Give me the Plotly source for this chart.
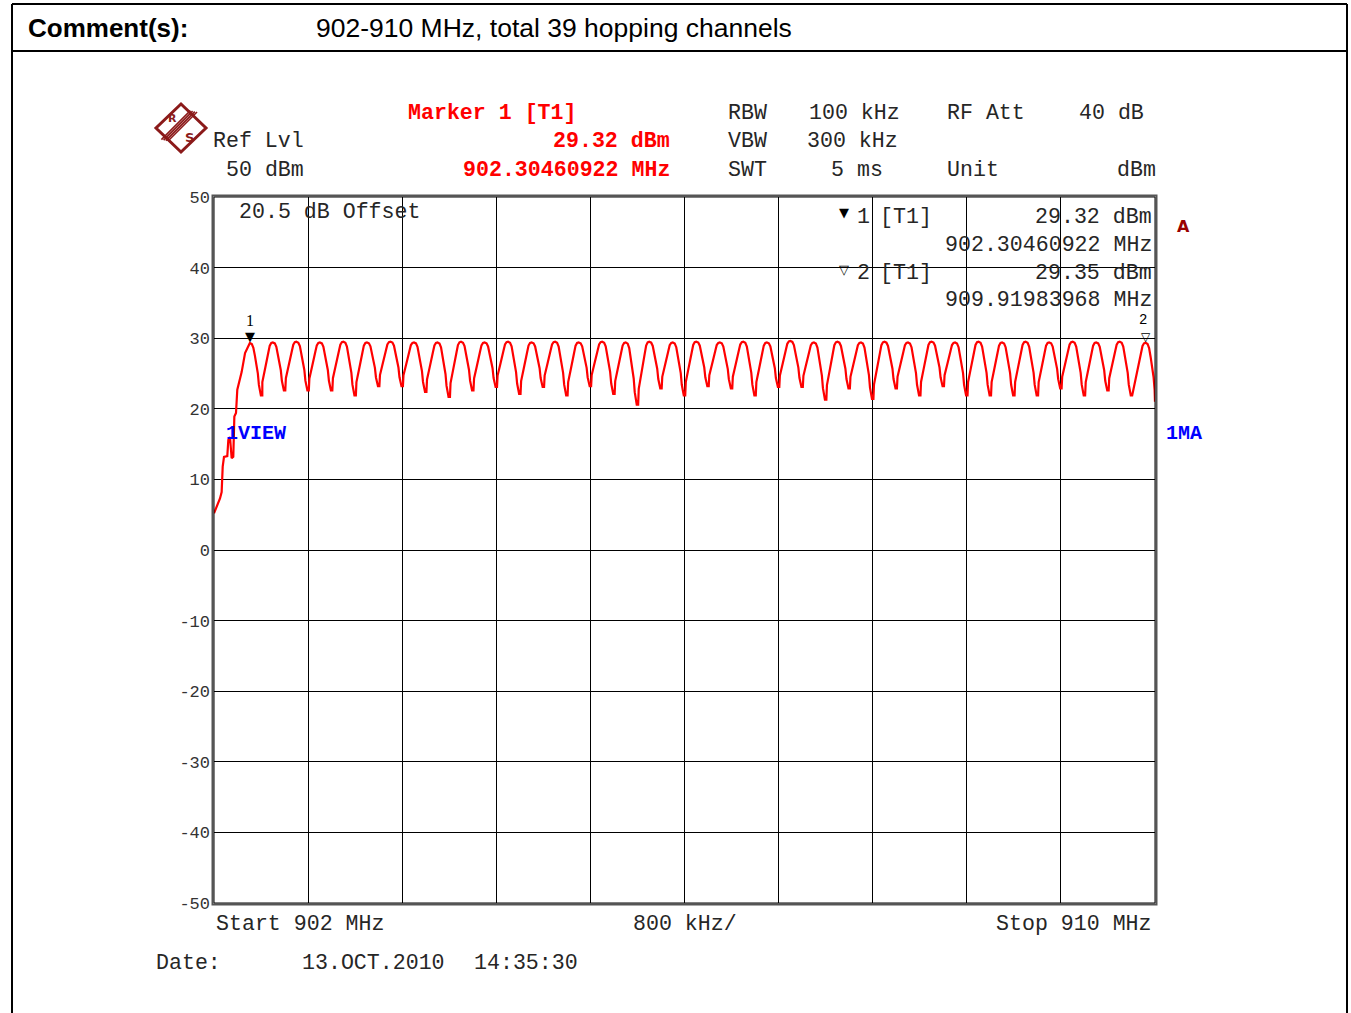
import plotly.graph_objects as go

# ---------------- data ----------------
channel_mhz = [902.3046, 902.5, 902.7, 902.9, 903.1, 903.3, 903.5, 903.7, 903.9, 904.1,
               904.3, 904.5, 904.7, 904.9, 905.1, 905.3, 905.5, 905.7, 905.9, 906.1,
               906.3, 906.5, 906.7, 906.9, 907.1, 907.3, 907.5, 907.7, 907.9, 908.1,
               908.3, 908.5, 908.7, 908.9, 909.1, 909.3, 909.5, 909.7, 909.9198]
peak_dbm = [29.32, 29.4, 29.5, 29.4, 29.5, 29.4, 29.5, 29.4, 29.4, 29.5,
            29.4, 29.5, 29.4, 29.5, 29.4, 29.5, 29.4, 29.5, 29.4, 29.5,
            29.4, 29.5, 29.4, 29.6, 29.4, 29.5, 29.4, 29.5, 29.4, 29.5,
            29.4, 29.5, 29.4, 29.5, 29.4, 29.5, 29.4, 29.5, 29.35]
trough_dbm = [21.9, 22.6, 22.6, 22.6, 21.9, 23.2, 23.2, 22.4, 21.7, 22.6,
              23.1, 22.1, 23.1, 21.9, 23.2, 22.1, 20.6, 22.9, 21.9, 23.2,
              22.9, 21.9, 23.1, 23.1, 21.3, 22.9, 21.4, 22.9, 21.9, 23.2,
              21.9, 21.9, 21.9, 21.9, 22.9, 21.9, 22.6, 21.9, 21.0]
# rising edge of the sweep before the first channel
ramp_mhz = [902.0, 902.023, 902.051, 902.065, 902.074, 902.085, 902.113, 902.122,
            902.136, 902.150, 902.164, 902.173, 902.187, 902.198, 902.215, 902.235, 902.264]
ramp_dbm = [5.2, 6.1, 7.3, 8.2, 11.8, 13.2, 13.3, 15.6,
            16.0, 13.0, 13.2, 18.9, 19.4, 22.7, 23.8, 25.2, 27.9]
# measured hump shape (offset from a peak in MHz, fraction of the peak-to-trough depth)
fall_off_mhz = [0.017, 0.030, 0.043, 0.057, 0.068, 0.077, 0.085, 0.094, 0.106]
fall_frac = [0.02, 0.09, 0.24, 0.40, 0.58, 0.80, 0.95, 1.0, 1.0]
rise_off_mhz = [-0.089, -0.068, -0.051, -0.038, -0.026, -0.013]
rise_frac = [0.75, 0.52, 0.36, 0.19, 0.06, 0.01]
stop_mhz = 910.0

markers_mhz = [902.30460922, 909.91983968]
markers_dbm = [29.32, 29.35]

y_ticks = [50, 40, 30, 20, 10, 0, -10, -20, -30, -40, -50]

# ---------------- build trace ----------------
tx = list(ramp_mhz)
ty = list(ramp_dbm)
n = len(channel_mhz)
for i in range(n):
    pk = channel_mhz[i]
    tx.append(pk)
    ty.append(peak_dbm[i])
    depth = peak_dbm[i] - trough_dbm[i]
    for off, fr in zip(fall_off_mhz, fall_frac):
        if pk + off < stop_mhz:
            tx.append(pk + off)
            ty.append(peak_dbm[i] - fr * depth)
    if i < n - 1:
        nxt = channel_mhz[i + 1]
        d2 = peak_dbm[i + 1] - trough_dbm[i]
        for off, fr in zip(rise_off_mhz, rise_frac):
            tx.append(nxt + off)
            ty.append(peak_dbm[i + 1] - fr * d2)
    else:
        tx.append(stop_mhz)
        ty.append(trough_dbm[i])

# ---------------- figure ----------------
W, H = 1351, 1013
L, R, T, B = 214, 1155, 197, 903
MONO = "Liberation Mono"
DARK = "#262626"
RED = "#ff0000"
BLUE = "#0000ff"
LOGO = "#8b1a1a"
FS = 21.6


def X(px):
    return (px - L) / (R - L)


def Y(py):
    return (B - py) / (B - T)


def txt(px, py, text, anchor="left", color=DARK, size=FS, family=MONO, weight="normal"):
    return dict(x=X(px), y=Y(py), xref="paper", yref="paper", text=text, showarrow=False,
                xanchor=anchor, yanchor="middle", borderpad=0,
                font=dict(family=family, size=size, color=color, weight=weight))


fig = go.Figure()
fig.add_trace(go.Scatter(x=tx, y=ty, mode="lines", line=dict(color=RED, width=2.2),
                         hoverinfo="skip"))

ann = [
    txt(27, 28, "Comment(s):", family="Liberation Sans", size=26, color="#000", weight="bold"),
    txt(315, 28, "902-910 MHz, total 39 hopping channels", family="Liberation Sans", size=26.5, color="#000"),
    txt(212, 141, "Ref Lvl"),
    txt(225, 170, "50 dBm"),
    txt(407, 113, "Marker 1 [T1]", color=RED, weight="bold"),
    txt(671, 141, "29.32 dBm", anchor="right", color=RED, weight="bold"),
    txt(671, 170, "902.30460922 MHz", anchor="right", color=RED, weight="bold"),
    txt(727, 113, "RBW"), txt(808, 113, "100 kHz"), txt(946, 113, "RF Att"), txt(1078, 113, "40 dB"),
    txt(727, 141, "VBW"), txt(806, 141, "300 kHz"),
    txt(727, 170, "SWT"), txt(830, 170, "5 ms"), txt(946, 170, "Unit"),
    txt(1157, 170, "dBm", anchor="right"),
    txt(238, 212, "20.5 dB Offset"),
    txt(844, 213, "▼", anchor="center", family="DejaVu Sans", size=13, color="#000"),
    txt(856, 217, "1"),
    txt(879, 217, "[T1]"),
    txt(1153, 217, "29.32 dBm", anchor="right"),
    txt(1153, 245, "902.30460922 MHz", anchor="right"),
    txt(844, 269, "▽", anchor="center", family="DejaVu Sans", size=13, color="#000"),
    txt(856, 273, "2"),
    txt(879, 273, "[T1]"),
    txt(1153, 273, "29.35 dBm", anchor="right"),
    txt(1153, 300, "909.91983968 MHz", anchor="right"),
    txt(1183, 227, "A", anchor="center", color="#990000", size=16, family="DejaVu Sans", weight="bold"),
    txt(225, 433, "1VIEW", color=BLUE, size=20, weight="bold"),
    txt(1165, 433, "1MA", color=BLUE, size=20, weight="bold"),
    txt(215, 924, "Start 902 MHz"),
    txt(632, 924, "800 kHz/"),
    txt(1153, 924, "Stop 910 MHz", anchor="right"),
    txt(155, 963, "Date:"),
    txt(301, 963, "13.OCT.2010"),
    txt(473, 963, "14:35:30"),
    # logo letters
    txt(172, 119, "R", anchor="center", color=LOGO, size=11, family="DejaVu Sans", weight="bold"),
    txt(189, 137, "S", anchor="center", color=LOGO, size=13, family="DejaVu Sans", weight="bold"),
]

# marker symbols on the trace
ann.append(dict(x=markers_mhz[0], y=markers_dbm[0], xref="x", yref="y", text="▼", showarrow=False,
                yanchor="bottom", yshift=-3, font=dict(family="DejaVu Sans", size=13, color="#000")))
ann.append(dict(x=markers_mhz[0], y=markers_dbm[0], xref="x", yref="y", text="1", showarrow=False,
                yanchor="bottom", yshift=12, font=dict(family="Liberation Serif", size=16, color="#000")))
ann.append(dict(x=markers_mhz[1], y=markers_dbm[1], xref="x", yref="y", text="▽", showarrow=False,
                yanchor="bottom", yshift=-3, font=dict(family="DejaVu Sans", size=12, color="#000")))
ann.append(dict(x=markers_mhz[1], y=markers_dbm[1], xref="x", yref="y", text="2", showarrow=False,
                yanchor="bottom", yshift=13, xshift=-3, font=dict(family=MONO, size=14, color="#000")))

shapes = []


def line(x0, y0, x1, y1, color="#000", width=2):
    shapes.append(dict(type="line", xref="paper", yref="paper", x0=X(x0), y0=Y(y0), x1=X(x1), y1=Y(y1),
                       line=dict(color=color, width=width)))


# page frame
line(12, 4, 1347, 4)
line(12, 4, 12, 1013)
line(1347, 4, 1347, 1013)
line(12, 51, 1347, 51)
# plot border (double)
shapes.append(dict(type="rect", xref="paper", yref="paper", x0=X(212.5), y0=Y(904.5), x1=X(1156.5), y1=Y(195.5),
                   line=dict(color="#555", width=2)))
shapes.append(dict(type="rect", xref="paper", yref="paper", x0=0, y0=0, x1=1, y1=1,
                   line=dict(color="#000", width=1)))
# logo diamond
shapes.append(dict(type="path", xref="paper", yref="paper",
                   path=f"M {X(181)} {Y(104)} L {X(206)} {Y(128)} L {X(181)} {Y(152)} L {X(156)} {Y(128)} Z",
                   line=dict(color=LOGO, width=3), fillcolor="white"))
for k in range(4):
    d = k * 2.2
    line(197 - d, 110 - d * 0.2 + 2, 168 - d, 139 - d * 0.2 + 2, color=LOGO, width=1.6)

fig.update_layout(
    width=W, height=H, autosize=False,
    margin=dict(l=L, r=W - R, t=T, b=H - B, pad=0),
    paper_bgcolor="white", plot_bgcolor="white",
    showlegend=False,
    xaxis=dict(range=[902, 910], tick0=902, dtick=0.8, showgrid=True, gridcolor="#000", gridwidth=1,
               showticklabels=False, zeroline=False, showline=False, ticks="", fixedrange=True),
    yaxis=dict(range=[-50, 50], tickvals=y_ticks, ticktext=[str(v) for v in y_ticks],
               showgrid=True, gridcolor="#000", gridwidth=1, zeroline=False, showline=False, ticks="",
               tickfont=dict(family=MONO, size=17, color="#333"), ticklabelstandoff=3, fixedrange=True),
    annotations=ann,
    shapes=shapes,
)

fig.write_html("out.html", config={"displayModeBar": False})
